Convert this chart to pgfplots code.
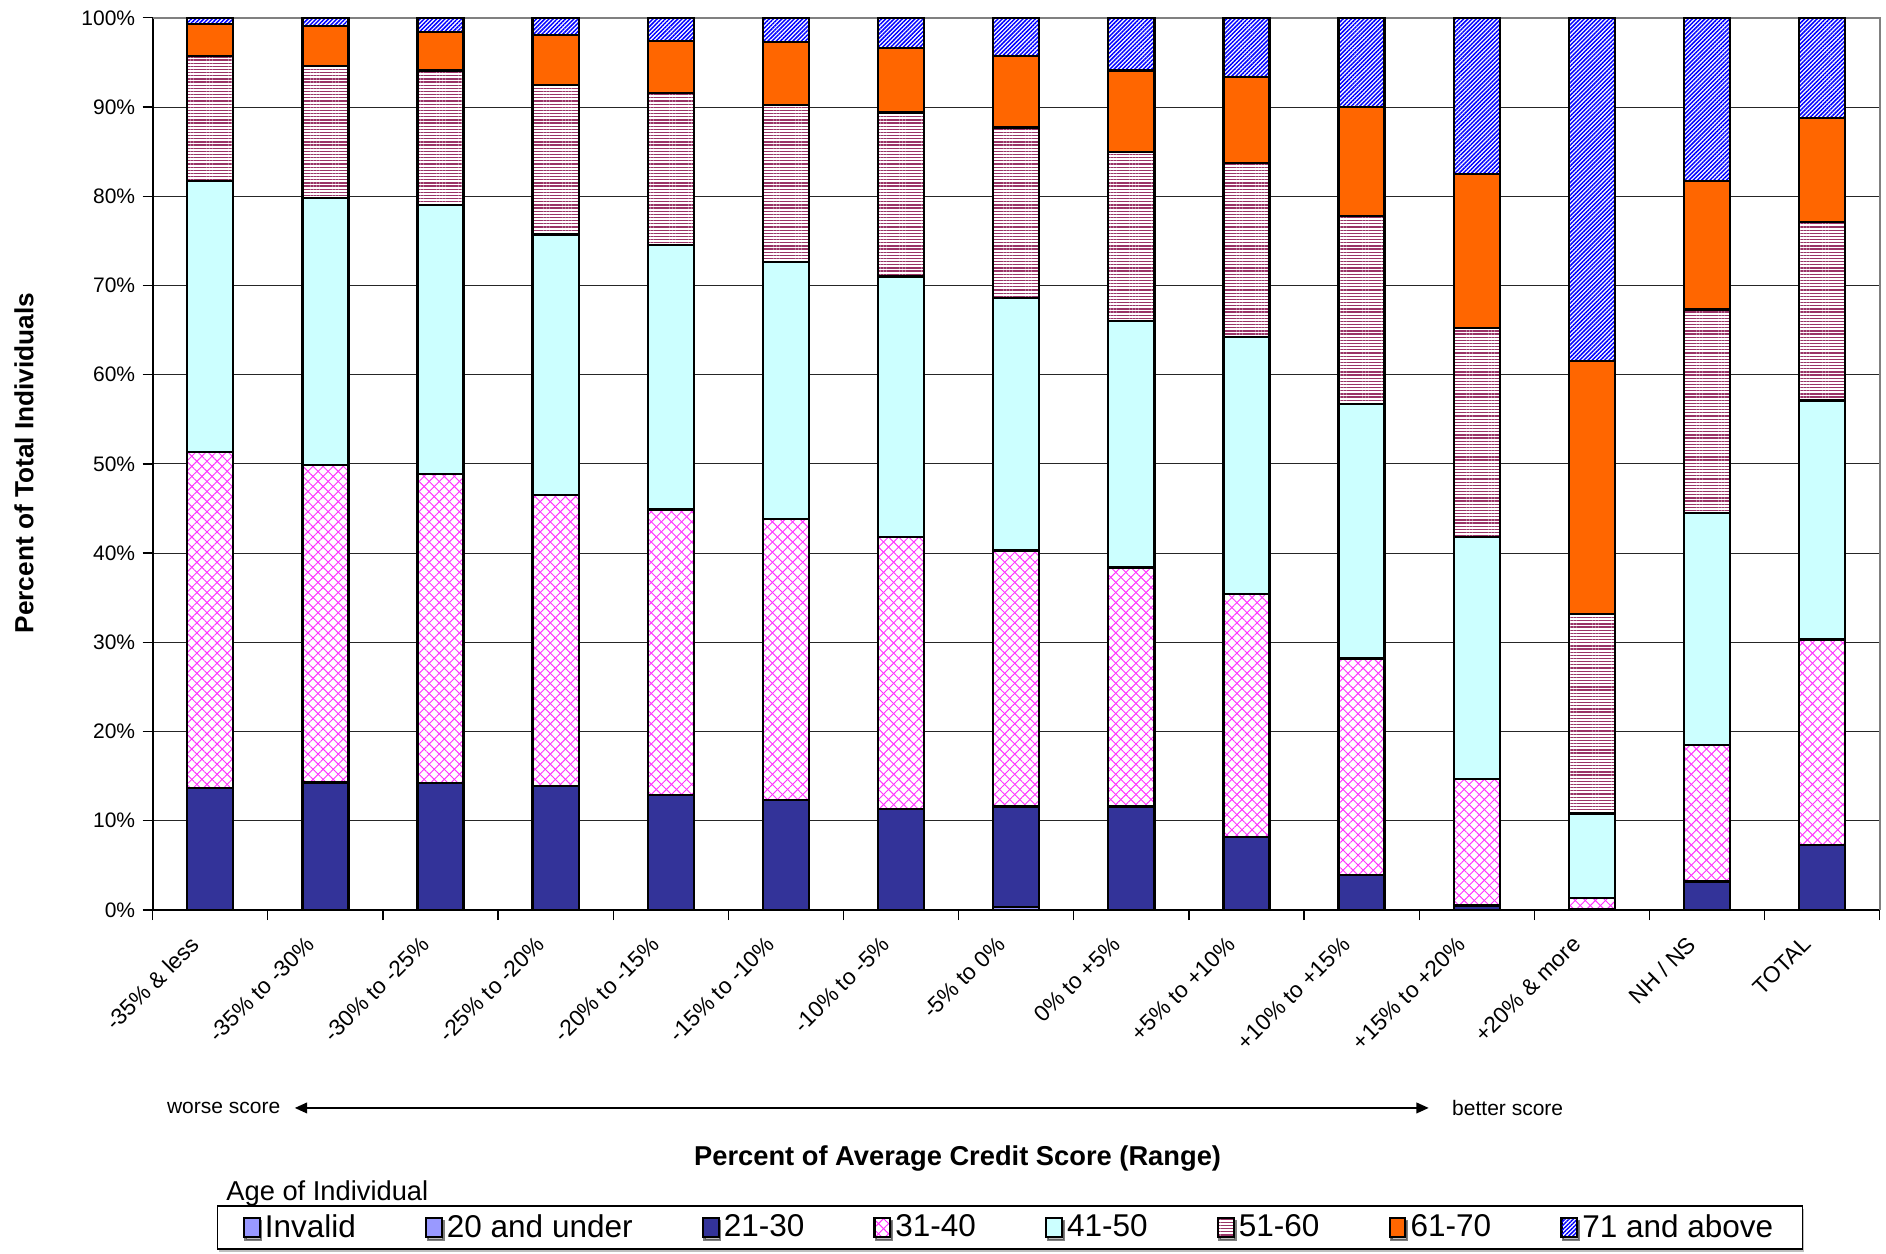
\documentclass[border=0pt]{standalone}
\usepackage{fontspec}
\setmainfont{Liberation Sans}
\usepackage{pgfplots}
\pgfplotsset{compat=1.18}
\usepackage{pgfplotstable}
\usetikzlibrary{patterns.meta,shadows,arrows.meta}

\definecolor{cInv}{RGB}{153,153,255}
\definecolor{c21}{RGB}{51,51,153}
\definecolor{cMag}{RGB}{255,51,255}
\definecolor{c41}{RGB}{204,255,255}
\definecolor{c51}{RGB}{153,51,102}
\definecolor{c61}{RGB}{255,102,0}
\definecolor{c71}{RGB}{0,0,255}

\tikzset{
  barline/.style={draw=black, line width=1.1pt},
  p31/.style={preaction={fill=white},
    preaction={pattern={Lines[angle=-45,distance=3.4pt,line width=0.45pt]}, pattern color=cMag},
    pattern={Lines[angle=45,distance=3.4pt,line width=0.45pt]}, pattern color=cMag},
  p51/.style={preaction={fill=white},
    pattern={Lines[angle=0,distance=1.5pt,line width=0.6pt]}, pattern color=c51},
  p71/.style={preaction={fill=white},
    pattern={Lines[angle=45,distance=1.4pt,line width=0.7pt]}, pattern color=c71},
}

% share of individuals (%) per age band, one row per credit-score range
\pgfplotstableread{
x  inv u20 a21  a31  a41  a51  a61  a71
0  0   0   13.7 37.6 30.4 14.0 3.6  0.7
1  0   0   14.3 35.6 29.9 14.8 4.5  0.9
2  0   0   14.2 34.7 30.1 15.1 4.3  1.6
3  0   0   13.9 32.6 29.2 16.8 5.6  1.9
4  0   0   12.9 32.0 29.6 17.1 5.8  2.6
5  0   0   12.3 31.5 28.8 17.6 7.1  2.7
6  0   0   11.3 30.5 29.2 18.4 7.2  3.4
7  0   0.3 11.3 28.7 28.3 19.1 8.0  4.3
8  0   0   11.6 26.8 27.6 19.0 9.1  5.9
9  0   0   8.2  27.2 28.8 19.5 9.7  6.6
10 0   0   3.9  24.3 28.5 21.1 12.2 10.0
11 0   0   0.5  14.2 27.1 23.4 17.3 17.5
12 0   0   0.1  1.2  9.5  22.4 28.3 38.5
13 0   0   3.2  15.3 26.0 22.8 14.4 18.3
14 0   0   7.3  23.0 26.8 20.0 11.7 11.2
}\data

\begin{document}
\begin{tikzpicture}
\path[use as bounding box] (0,0) rectangle (898.1pt,597.1pt);
\begin{axis}[
  at={(72.7pt,163.8pt)}, anchor=south west,
  width=822.4pt, height=424.8pt, scale only axis,
  ybar stacked, bar width=0.4,
  xmin=-0.5, xmax=14.5, ymin=0, ymax=100,
  clip=false,
  axis x line*=bottom, axis y line*=left,
  axis line style={black, line width=0.8pt},
  tick align=outside, major tick length=4.8pt,
  tick style={black, line width=0.6pt},
  ytick={0,10,...,100},
  yticklabels={0\%,10\%,20\%,30\%,40\%,50\%,60\%,70\%,80\%,90\%,100\%},
  yticklabel style={font=\fontsize{10}{12}\selectfont},
  ymajorgrids, major grid style={black!85, line width=0.5pt},
  xtick={-0.5,0.5,...,14.5},
  x tick label as interval,
  xticklabels={-35\% \& less,-35\% to -30\%,-30\% to -25\%,-25\% to -20\%,-20\% to -15\%,-15\% to -10\%,-10\% to -5\%,-5\% to 0\%,0\% to +5\%,+5\% to +10\%,+10\% to +15\%,+15\% to +20\%,+20\% \& more,NH / NS,TOTAL},
  xticklabel style={xshift=-10pt, yshift=-2pt, rotate=45, anchor=north east, font=\fontsize{10.8}{13}\selectfont},
  legend columns=8,
  legend style={at={(0.4965,-0.356)}, anchor=center, draw=black, line width=0.6pt,
    font=\fontsize{15}{18}\selectfont, inner ysep=2pt, inner xsep=12pt,
    drop shadow={shadow xshift=0.8pt, shadow yshift=-1.5pt, fill=black!50},
    /tikz/every odd column/.append style={column sep=0pt},
    /tikz/every even column/.append style={column sep=31pt}},
  legend image code/.code={\draw[#1, line width=0.9pt] (0pt,-4.5pt) rectangle (7.5pt,4.5pt);},
]
\addplot[barline, fill=cInv] table[x=x,y=inv]{\data};
\addlegendentry{Invalid}
\addplot[barline, fill=cInv] table[x=x,y=u20]{\data};
\addlegendentry{20 and under}
\addplot[barline, fill=c21] table[x=x,y=a21]{\data};
\addlegendentry{21-30}
\addplot[barline, p31] table[x=x,y=a31]{\data};
\addlegendentry{31-40}
\addplot[barline, fill=c41] table[x=x,y=a41]{\data};
\addlegendentry{41-50}
\addplot[barline, p51] table[x=x,y=a51]{\data};
\addlegendentry{51-60}
\addplot[barline, fill=c61] table[x=x,y=a61]{\data};
\addlegendentry{61-70}
\addplot[barline, p71] table[x=x,y=a71]{\data};
\addlegendentry{71 and above}
\draw[black!50, line width=0.8pt] (rel axis cs:0,1) -- (rel axis cs:1,1) -- (rel axis cs:1,0);
\end{axis}

% direction of the score scale
\draw[{Triangle[length=6pt,width=5pt]}-{Triangle[length=6pt,width=5pt]}, line width=1.2pt]
  (140.3pt,69.5pt) -- (680.4pt,69.5pt);
\node[anchor=east, font=\fontsize{10}{12}\selectfont] at (137pt,69.5pt) {worse score};
\node[anchor=west, font=\fontsize{10}{12}\selectfont] at (688pt,69.5pt) {better score};

\node[font=\fontsize{13}{15}\selectfont\bfseries] at (456pt,45.5pt)
  {Percent of Average Credit Score (Range)};
\node[rotate=90, font=\fontsize{12.5}{15}\selectfont\bfseries] at (11.4pt,376.6pt)
  {Percent of Total Individuals};
\node[anchor=base west, font=\fontsize{13}{15}\selectfont, inner sep=0pt] at (107.6pt,25.5pt)
  {Age of Individual};
\end{tikzpicture}
\end{document}
